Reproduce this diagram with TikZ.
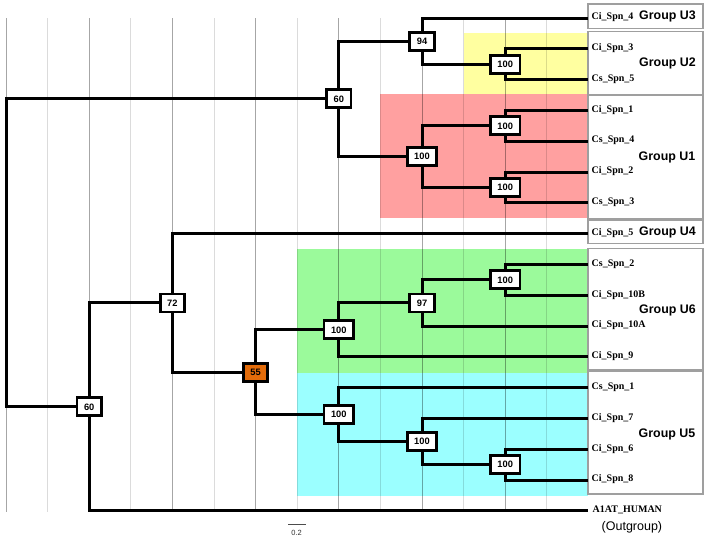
\documentclass[tikz,border=0pt]{standalone}
\usepackage{fontspec}
\setmainfont{Liberation Serif}
\setsansfont{Liberation Sans}
\definecolor{cyel}{RGB}{255,255,160}
\definecolor{cpink}{RGB}{255,160,160}
\definecolor{cgreen}{RGB}{155,250,155}
\definecolor{ccyan}{RGB}{155,255,255}
\definecolor{corange}{RGB}{228,108,10}
\begin{document}
\begin{tikzpicture}[x=1pt,y=-1pt,
  branch/.style={line width=3pt, line join=miter},
  bsbox/.style={draw, line width=2.8pt, fill=white, font=\sffamily\bfseries\fontsize{9.3}{10}\selectfont, minimum height=18pt, minimum width=23pt, inner xsep=7pt, inner ysep=0pt},
  leaf/.style={anchor=west, font=\bfseries\fontsize{10}{11}\selectfont, inner sep=0pt},
  grp/.style={anchor=west, font=\sffamily\bfseries\fontsize{12.4}{14}\selectfont, inner sep=0pt},
  lbox/.style={draw=gray!75, line width=1.1pt, fill=white},
  gridA/.style={draw=black, draw opacity=0.35, line width=0.9pt},
  gridB/.style={draw=black, draw opacity=0.14, line width=0.9pt},
]
\useasboundingbox (0,0) rectangle (707,541);
\fill[white] (0,0) rectangle (707,541);
% coloured group areas
\fill[cyel] (463.6,33.3) rectangle (588,94.3);
\fill[cpink] (380.4,94.3) rectangle (588,217.5);
\fill[cgreen] (297.2,249) rectangle (588,372.7);
\fill[ccyan] (297.2,372.7) rectangle (588,496);
% grid
\foreach \k in {0,2,...,12} {\draw[gridA] ({6+41.6*\k},18) -- ({6+41.6*\k},512);}
\foreach \k in {1,3,...,13} {\draw[gridB] ({6+41.6*\k},18) -- ({6+41.6*\k},512);}
% label boxes
\draw[lbox] (588,4) rectangle (703,28.3);
\draw[lbox] (588,31.7) rectangle (703,94.3);
\draw[lbox] (588,95.3) rectangle (703,218.3);
\draw[lbox] (588,220) rectangle (703,243.3);
\draw[lbox] (588,248.3) rectangle (703,370);
\draw[lbox] (588,371.7) rectangle (703,494);
% leaves
\coordinate (L0) at (588,18);
\coordinate (L1) at (588,48.8);
\coordinate (L2) at (588,79.6);
\coordinate (L3) at (588,110.4);
\coordinate (L4) at (588,141.2);
\coordinate (L5) at (588,172);
\coordinate (L6) at (588,202.8);
\coordinate (L7) at (588,233.6);
\coordinate (L8) at (588,264.4);
\coordinate (L9) at (588,295.2);
\coordinate (L10) at (588,326);
\coordinate (L11) at (588,356.8);
\coordinate (L12) at (588,387.6);
\coordinate (L13) at (588,418.4);
\coordinate (L14) at (588,449.2);
\coordinate (L15) at (588,480);
\coordinate (L16) at (588,510.8);
% junctions
\coordinate (jU2) at (505.2,64.2);
\coordinate (j94) at (422,41.1);
\coordinate (jU1a) at (505.2,125.8);
\coordinate (jU1b) at (505.2,187.4);
\coordinate (jU1) at (422,156.6);
\coordinate (j60t) at (338.8,98.85);
\coordinate (jU6c) at (505.2,279.8);
\coordinate (j97) at (422,302.9);
\coordinate (jU6) at (338.8,329.85);
\coordinate (jU5c) at (505.2,464.6);
\coordinate (jU5b) at (422,441.5);
\coordinate (jU5) at (338.8,414.55);
\coordinate (j55) at (255.6,372.2);
\coordinate (j72) at (172.4,302.9);
\coordinate (j60b) at (89.2,406.85);
\coordinate (root) at (6,252.85);
% branches
\draw[branch] (j60t) -| (root) |- (j60b);
\draw[branch] (j94) -| (j60t) |- (jU1);
\draw[branch] (L0) -| (j94) |- (jU2);
\draw[branch] (L1) -| (jU2) |- (L2);
\draw[branch] (jU1a) -| (jU1) |- (jU1b);
\draw[branch] (L3) -| (jU1a) |- (L4);
\draw[branch] (L5) -| (jU1b) |- (L6);
\draw[branch] (j72) -| (j60b) |- (L16);
\draw[branch] (L7) -| (j72) |- (j55);
\draw[branch] (jU6) -| (j55) |- (jU5);
\draw[branch] (j97) -| (jU6) |- (L11);
\draw[branch] (jU6c) -| (j97) |- (L10);
\draw[branch] (L8) -| (jU6c) |- (L9);
\draw[branch] (L12) -| (jU5) |- (jU5b);
\draw[branch] (L13) -| (jU5b) |- (jU5c);
\draw[branch] (L14) -| (jU5c) |- (L15);
% support boxes
\node[bsbox] (b60t) at (j60t) {60};
\node[bsbox] (b94) at (j94) {94};
\node[bsbox] (bU2) at (jU2) {100};
\node[bsbox] (bU1) at (jU1) {100};
\node[bsbox] (bU1a) at (jU1a) {100};
\node[bsbox] (bU1b) at (jU1b) {100};
\node[bsbox] (b60b) at (j60b) {60};
\node[bsbox] (b72) at (j72) {72};
\node[bsbox, fill=corange] (b55) at (j55) {55};
\node[bsbox] (bU6) at (jU6) {100};
\node[bsbox] (b97) at (j97) {97};
\node[bsbox] (bU6c) at (jU6c) {100};
\node[bsbox] (bU5) at (jU5) {100};
\node[bsbox] (bU5b) at (jU5b) {100};
\node[bsbox] (bU5c) at (jU5c) {100};
% leaf labels
\node[leaf] (t0) at (591.5,17.5) {Ci\_Spn\_4};
\node[leaf] (t1) at (591.5,48.3) {Ci\_Spn\_3};
\node[leaf] (t2) at (591.5,79.1) {Cs\_Spn\_5};
\node[leaf] (t3) at (591.5,109.9) {Ci\_Spn\_1};
\node[leaf] (t4) at (591.5,140.7) {Cs\_Spn\_4};
\node[leaf] (t5) at (591.5,171.5) {Ci\_Spn\_2};
\node[leaf] (t6) at (591.5,202.3) {Cs\_Spn\_3};
\node[leaf] (t7) at (591.5,233.1) {Ci\_Spn\_5};
\node[leaf] (t8) at (591.5,263.9) {Cs\_Spn\_2};
\node[leaf] (t9) at (591.5,294.7) {Ci\_Spn\_10B};
\node[leaf] (t10) at (591.5,325.5) {Ci\_Spn\_10A};
\node[leaf] (t11) at (591.5,356.3) {Ci\_Spn\_9};
\node[leaf] (t12) at (591.5,387.1) {Cs\_Spn\_1};
\node[leaf] (t13) at (591.5,417.9) {Ci\_Spn\_7};
\node[leaf] (t14) at (591.5,448.7) {Ci\_Spn\_6};
\node[leaf] (t15) at (591.5,479.5) {Ci\_Spn\_8};
\node[leaf] (t16) at (592.5,510.3) {A1AT\_HUMAN};
% group labels
\node[grp] (gU3) at (639,16.7) {Group U3};
\node[grp] (gU2) at (639,63.3) {Group U2};
\node[grp] (gU1) at (638.5,157.7) {Group U1};
\node[grp] (gU4) at (639,232.3) {Group U4};
\node[grp] (gU6) at (639,310) {Group U6};
\node[grp] (gU5) at (638.5,434) {Group U5};
\node[anchor=west, inner sep=0pt, font=\sffamily\fontsize{12.5}{14}\selectfont] (og) at (601.5,527.5) {(Outgroup)};
% scale bar
\coordinate (sb1) at (288.3,524.3);
\coordinate (sb2) at (306,524.3);
\draw[gray!60!black, line width=0.8pt] (sb1) -- (sb2);
\node[font=\sffamily\fontsize{7.5}{8}\selectfont, text=gray!40!black, inner sep=0pt] (sbl) at (296.7,532.5) {0.2};
\end{tikzpicture}
\end{document}
